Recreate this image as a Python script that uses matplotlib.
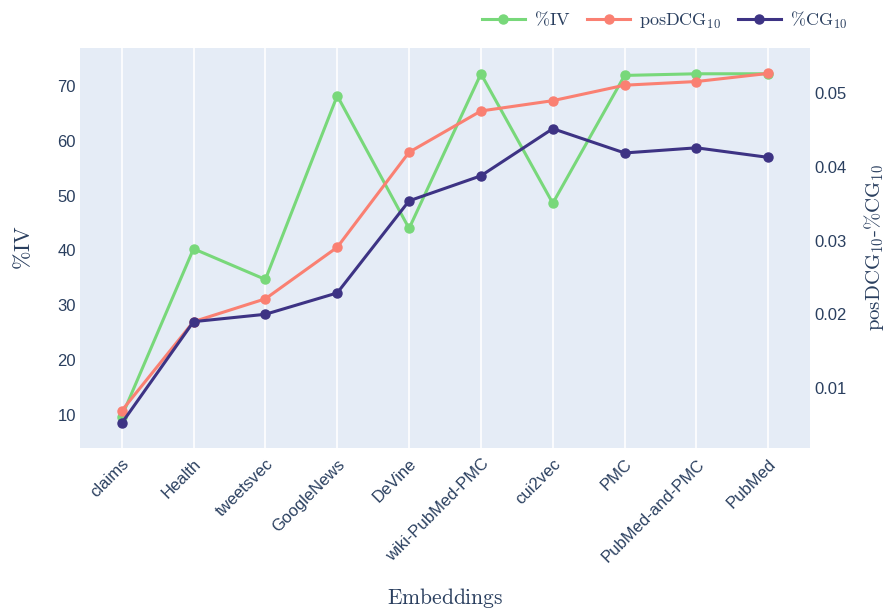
import matplotlib
matplotlib.use("Agg")
import matplotlib.pyplot as plt
from matplotlib.lines import Line2D

plt.rcParams["mathtext.fontset"] = "cm"
plt.rcParams["font.family"] = ["Liberation Sans", "DejaVu Sans"]

embeddings = ["claims", "Health", "tweetsvec", "GoogleNews", "DeVine",
              "wiki-PubMed-PMC", "cui2vec", "PMC", "PubMed-and-PMC", "PubMed"]
pct_iv = [9.7, 40.3, 34.7, 68.2, 44.0, 72.2, 48.6, 71.9, 72.2, 72.2]
pos_dcg10 = [0.0069, 0.0190, 0.0221, 0.0291, 0.0420, 0.0476, 0.0490, 0.0511, 0.0516, 0.0527]
pct_cg10 = [0.0052, 0.0190, 0.0200, 0.0229, 0.0354, 0.0388, 0.0452, 0.0419, 0.0426, 0.0413]

left_ticks = [10, 20, 30, 40, 50, 60, 70]
right_ticks = [0.01, 0.02, 0.03, 0.04, 0.05]

GREEN = "#78d87a"
SALMON = "#fa8072"
NAVY = "#3d3384"
TEXT = "#2a3f5f"
BG = "#e5ecf6"

fig = plt.figure(figsize=(8.91, 6.13), dpi=100)
ax = fig.add_axes([0.0898, 0.2692, 0.8193, 0.6525])
ax2 = ax.twinx()

ax.set_facecolor(BG)
for a in (ax, ax2):
    for s in a.spines.values():
        s.set_visible(False)

x = list(range(len(embeddings)))
ax.set_xlim(-0.58, 9.58)
ax.set_ylim(3.98, 76.9)
ax2.set_ylim(0.00185, 0.05615)

ax.set_xticks(x)
ax.set_xticklabels(embeddings, rotation=45, ha="right", rotation_mode="anchor")
ax.grid(axis="x", color="white", linewidth=1.2)
ax.grid(axis="y", visible=False)
ax.set_axisbelow(True)

ax.set_yticks(left_ticks)
ax2.set_yticks(right_ticks)
ax2.set_yticklabels([f"{t:.2f}" for t in right_ticks])

ax.tick_params(axis="both", length=0, labelsize=12, labelcolor=TEXT)
ax.tick_params(axis="y", pad=3)
ax.tick_params(axis="x", pad=6)
ax2.tick_params(axis="y", length=0, labelsize=12, labelcolor=TEXT, pad=3)

lw = 2.2
ms = 6.5
ax.plot(x, pct_iv, color=GREEN, lw=lw, marker="o", ms=ms, zorder=3)
ax2.plot(x, pos_dcg10, color=SALMON, lw=lw, marker="o", ms=ms, zorder=3)
ax2.plot(x, pct_cg10, color=NAVY, lw=lw, marker="o", ms=ms, zorder=4)

ax.set_ylabel(r"$\%\mathrm{IV}$", fontsize=16, color=TEXT)
ax.yaxis.set_label_coords(-0.062, 0.5)
ax2.set_ylabel(r"$\mathrm{posDCG}_{10}\text{-}\%\mathrm{CG}_{10}$", fontsize=15,
               color=TEXT, rotation=90, va="center")
ax2.yaxis.set_label_coords(1.088, 0.5)
ax.set_xlabel(r"$\mathrm{Embeddings}$", fontsize=15.5, color=TEXT)
ax.xaxis.set_label_coords(0.5, -0.345)

handles = [
    Line2D([0], [0], color=GREEN, lw=lw, marker="o", ms=ms),
    Line2D([0], [0], color=SALMON, lw=lw, marker="o", ms=ms),
    Line2D([0], [0], color=NAVY, lw=lw, marker="o", ms=ms),
]
labels = [r"$\%\mathrm{IV}$", r"$\mathrm{posDCG}_{10}$", r"$\%\mathrm{CG}_{10}$"]
leg = fig.legend(handles, labels, loc="center right", bbox_to_anchor=(0.965, 0.967),
                 ncol=3, frameon=False, fontsize=13, handlelength=2.4,
                 columnspacing=0.9, handletextpad=0.5, borderpad=0.2)
for t in leg.get_texts():
    t.set_color(TEXT)

fig.savefig("out.png", dpi=100)
